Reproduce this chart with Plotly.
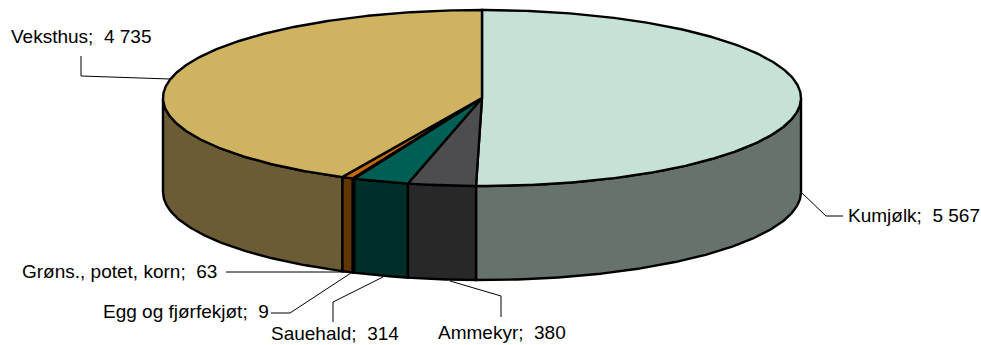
import numpy as np
import plotly.graph_objects as go

categories = ["Kumjølk", "Ammekyr", "Sauehald", "Egg og fjørfekjøt", "Grøns., potet, korn", "Veksthus"]
values = [5567, 380, 314, 9, 63, 4735]
value_labels = ["5 567", "380", "314", "9", "63", "4 735"]
top_colors = ["#C6E2D6", "#4D4D4F", "#005F55", "#7A3F00", "#C46A00", "#CFB361"]
side_colors = ["#66736D", "#282828", "#002F2A", "#3D2000", "#5F3600", "#6B5C35"]

CX, CY, RX, RY, DEPTH = 482, 98, 319, 88, 94
W, H = 981, 345


def arc(a0, a1, dy=0.0):
    t = np.radians(np.linspace(a0, a1, max(2, int(abs(a1 - a0) * 2) + 2)))
    return CX + RX * np.sin(t), CY - RY * np.cos(t) + dy


edges = np.concatenate([[0], np.cumsum(values)]) / sum(values) * 360
fig = go.Figure()


def poly(x, y, color, width=2.4):
    fig.add_trace(go.Scatter(x=list(x), y=list(y), mode="lines", fill="toself", fillcolor=color,
                             line=dict(color="black", width=width), hoverinfo="skip", showlegend=False))


# Walls: only the front half (90..270 degrees) is visible
for i in range(len(values)):
    a0, a1 = max(edges[i], 90), min(edges[i + 1], 270)
    if a1 <= a0:
        continue
    xt, yt = arc(a0, a1)
    xb, yb = arc(a1, a0, DEPTH)
    poly(np.r_[xt, xb, xt[0]], np.r_[yt, yb, yt[0]], side_colors[i])

# Top faces
for i in range(len(values)):
    xt, yt = arc(edges[i], edges[i + 1])
    poly(np.r_[CX, xt, CX], np.r_[CY, yt, CY], top_colors[i])

# Leader lines
leaders = [
    [(81, 56), (81, 76), (170, 79)],
    [(802, 193), (826, 216), (843, 216)],
    [(226, 272), (346, 272)],
    [(271, 313), (290, 313), (351, 273)],
    [(333, 322), (333, 302), (383, 277)],
    [(501, 317), (501, 296), (450, 281)],
]
for pts in leaders:
    fig.add_trace(go.Scatter(x=[p[0] for p in pts], y=[p[1] for p in pts], mode="lines",
                             line=dict(color="black", width=1), hoverinfo="skip", showlegend=False))

# Labels
label_pos = {
    "Veksthus": (10, 36), "Kumjølk": (847, 215), "Grøns., potet, korn": (21, 271),
    "Egg og fjørfekjøt": (102, 311), "Sauehald": (270, 333), "Ammekyr": (437, 332),
}
for name, val in zip(categories, value_labels):
    x, y = label_pos[name]
    fig.add_annotation(x=x, y=y, text=f"{name};\u00a0 {val}", showarrow=False, xanchor="left", yanchor="middle",
                       font=dict(family="Liberation Sans", size=19, color="black"), xref="x", yref="y",
                       xshift=-1)

fig.update_layout(
    width=W, height=H, margin=dict(l=0, r=0, t=0, b=0), paper_bgcolor="white", plot_bgcolor="white",
    xaxis=dict(range=[0, W], visible=False, fixedrange=True),
    yaxis=dict(range=[H, 0], visible=False, fixedrange=True),
)
fig.write_html("out.html", config={"displayModeBar": False},
               post_script="document.documentElement.style.overflow='hidden';document.body.style.margin='0';")
